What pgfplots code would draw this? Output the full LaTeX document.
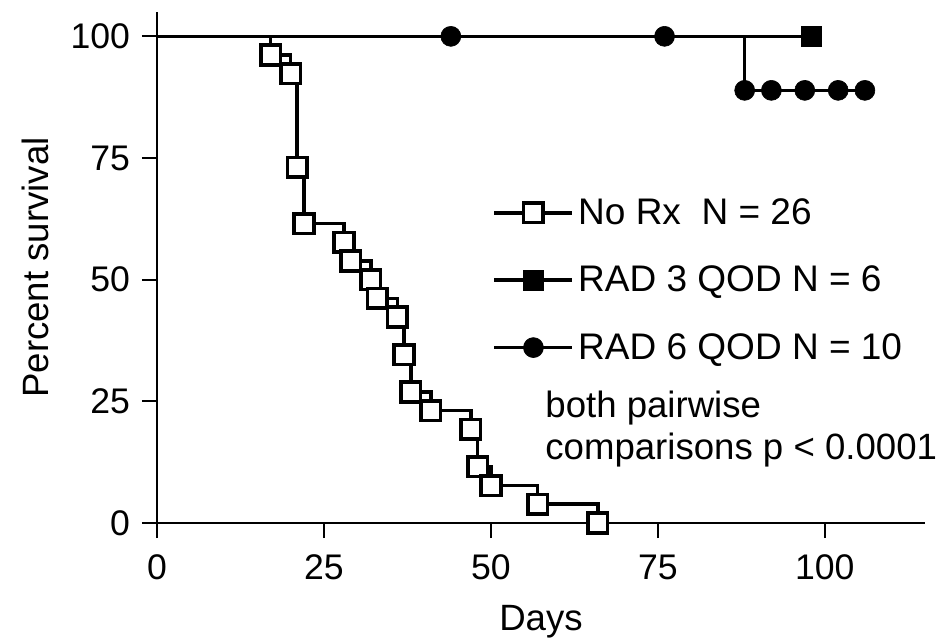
\documentclass[border=0pt]{standalone}
\usepackage{fontspec}
\setmainfont{Liberation Sans}
\usepackage{pgfplots}
\pgfplotsset{compat=1.18}

\begin{document}
\begin{tikzpicture}
\path[use as bounding box] (-78.5pt,-58pt) rectangle (391pt,261.5pt);
\begin{axis}[
    at={(0,0)}, anchor=south west,
    scale only axis, width=384pt, height=255.5pt,
    xmin=0, xmax=115, ymin=0, ymax=105,
    axis x line*=bottom, axis y line*=left,
    xtick pos=bottom, ytick pos=left,
    axis line style={-, line width=1pt},
    xtick={0,25,50,75,100}, ytick={0,25,50,75,100},
    tick align=outside, major tick length=7.5pt,
    tick style={line width=1pt, black},
    ticklabel style={font=\fontsize{17.8}{20}\selectfont},
    xticklabel style={yshift=-5pt},
    yticklabel style={xshift=-2.5pt},
    /pgf/number format/assume math mode=true,
    xlabel={Days}, ylabel={Percent survival},
    label style={font=\fontsize{18.3}{21}\selectfont},
    xlabel style={at={(axis description cs:0.5,0)}, anchor=base, yshift=-53.5pt},
    ylabel style={at={(axis description cs:0,0.5)}, anchor=center, yshift=61pt},
    clip=false,
    legend cell align=left,
    legend style={draw=none, fill=none, at={(axis cs:50.2,49.9)}, anchor=west,
        inner sep=0pt, row sep=15.3pt, font=\fontsize{18.5}{22}\selectfont,
        nodes={inner sep=2pt}},
    legend image code/.code={\draw[mark repeat=2,mark phase=2,#1]
        plot coordinates {(0pt,0pt) (19.5pt,0pt) (39pt,0pt)};},
]
% No Rx, N = 26
\addplot[const plot, black, line width=1.8pt, forget plot,
    mark=square*, mark indices={2,...,18}, mark size=4.9pt,
    mark options={fill=white, draw=black, line width=1.8pt}]
coordinates {
    (0,100) (17,96.15) (20,92.31) (21,73.08) (22,61.54) (28,57.69)
    (29,53.85) (32,50.00) (33,46.15) (36,42.31) (37,34.62) (38,26.92)
    (41,23.08) (47,19.23) (48,11.54) (50,7.69) (57,3.85) (66,0)
};
% RAD 3 QOD, N = 6
\addplot[const plot, black, line width=1.8pt, forget plot,
    mark=square*, mark indices={2}, mark size=5pt,
    mark options={fill=black, line width=0.3pt}]
coordinates {(0,100) (98,100)};
% RAD 6 QOD, N = 10
\addplot[const plot, black, line width=1.8pt, forget plot,
    mark=*, mark indices={2,...,8}, mark size=5pt,
    mark options={fill=black, line width=0.3pt}]
coordinates {
    (0,100) (44,100) (76,100) (88,88.9) (92,88.9) (97,88.9) (102,88.9) (106,88.9)
};

\addlegendimage{black, line width=1.8pt, mark=square*, mark size=4.9pt,
    mark options={fill=white, line width=1.8pt}}
\addlegendentry{No Rx\ \ N = 26}
\addlegendimage{black, line width=1.8pt, mark=square*, mark size=5pt,
    mark options={fill=black, line width=0.3pt}}
\addlegendentry{RAD 3 QOD N = 6}
\addlegendimage{black, line width=1.8pt, mark=*, mark size=5pt,
    mark options={fill=black, line width=0.3pt}}
\addlegendentry{RAD 6 QOD N = 10}

\node[anchor=base west, inner sep=0pt, font=\fontsize{18.3}{22}\selectfont]
    at (axis cs:58.1,21.6) {both pairwise};
\node[anchor=base west, inner sep=0pt, font=\fontsize{18.3}{22}\selectfont]
    at (axis cs:58.1,13.15) {comparisons p < 0.0001};
\end{axis}
\end{tikzpicture}
\end{document}
